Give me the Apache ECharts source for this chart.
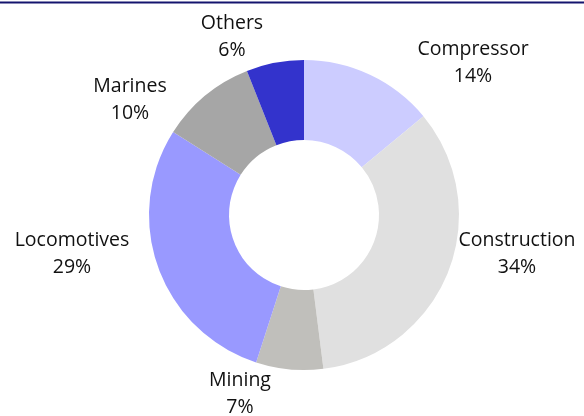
<!DOCTYPE html>
<html>
<head>
<meta charset="utf-8">
<script src="https://cdn.jsdelivr.net/npm/echarts@6/dist/echarts.min.js"></script>
<style>
  html, body { margin: 0; padding: 0; background: #fff; }
  #chart { width: 584px; height: 416px; }
</style>
</head>
<body>
<div id="chart"></div>
<script>
// data, clockwise from 12 o'clock
var categories = ['Compressor', 'Construction', 'Mining', 'Locomotives', 'Marines', 'Others'];
var shares = [14, 34, 7, 29, 10, 6];
var colors = ['#ccccff', '#e0e0e0', '#c0bfbb', '#9999ff', '#a6a6a6', '#3333cc'];

// where the labels sit (block centres), like the excel best-fit labels
var labelPos = [[473, 63], [517, 254], [240, 394], [72, 254], [130, 100], [232, 37]];

var myChart = echarts.init(document.getElementById('chart'));

var option = {
  animation: false,
  graphic: [
    {
      type: 'line',
      shape: {x1: 0, y1: 2.5, x2: 584, y2: 2.5},
      style: {stroke: '#14146e', lineWidth: 2}
    }
  ],
  series: [
    {
      type: 'pie',
      center: [304, 215],
      radius: [75, 155],
      startAngle: 90,
      clockwise: true,
      label: {
        show: true,
        position: 'outside',
        formatter: function (p) {
          return p.name + '\n' + p.value + '%';
        },
        color: '#111',
        fontFamily: '"Open Sans", sans-serif',
        fontSize: 19.5,
        lineHeight: 27,
        width: 200,
        overflow: 'none'
      },
      labelLine: {show: false},
      labelLayout: function (params) {
        var pos = labelPos[params.dataIndex];
        return {x: pos[0], y: pos[1], align: 'center', verticalAlign: 'middle'};
      },
      itemStyle: {borderWidth: 0},
      emphasis: {disabled: true},
      data: categories.map(function (c, i) {
        return {name: c, value: shares[i], itemStyle: {color: colors[i]}};
      })
    }
  ]
};

myChart.setOption(option);
</script>
</body>
</html>
